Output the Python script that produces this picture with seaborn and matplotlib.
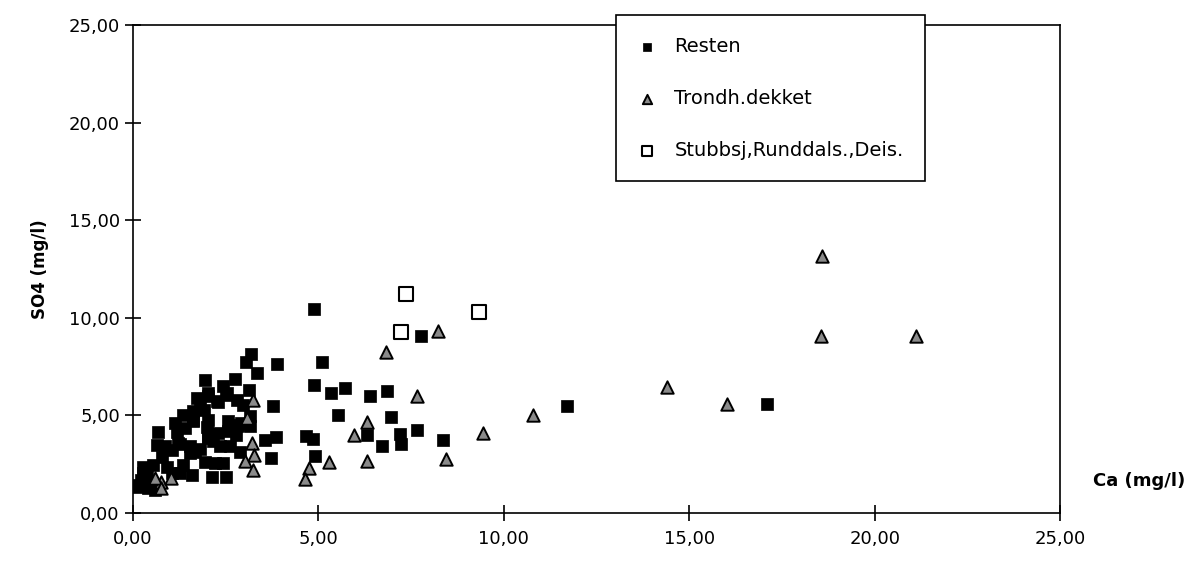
import matplotlib
matplotlib.use("Agg")
import matplotlib.pyplot as plt
from matplotlib.ticker import FuncFormatter, MultipleLocator
import seaborn as sns

# Resten (filled squares)
resten_ca = [4.88, 5.09, 4.87, 5.35, 5.71, 5.54, 6.38, 6.84, 6.96, 6.30, 7.20, 7.66, 6.72, 7.23,
             8.35, 7.77, 11.71, 17.10, 4.66, 4.84, 4.90, 3.87, 3.78, 3.85, 3.55, 3.71,
             3.17, 3.05, 3.35, 2.75, 3.13, 3.15, 2.79, 3.15, 2.78, 2.88, 1.94, 2.43, 2.52, 1.72,
             2.03, 2.30, 2.79, 2.97, 1.90, 1.63, 1.36, 1.63, 1.13, 1.99, 2.84, 2.57, 0.68, 1.18,
             1.40, 2.30, 2.03, 0.64, 0.86, 1.04, 1.27, 1.54, 1.67, 1.81, 2.16, 2.34, 2.61, 1.94,
             2.21, 2.43, 2.12, 2.52, 1.54, 1.36, 1.58, 1.27, 0.77, 0.91, 0.55, 0.26, 0.28, 0.14,
             0.59, 0.41, 1.04, 0.37, 2.02, 2.27, 2.53, 1.80, 1.62, 2.02, 2.56, 2.92, 1.21, 2.02,
             0.09, 0.40, 0.22]
resten_so4 = [10.43, 7.75, 6.58, 6.17, 6.38, 5.00, 5.98, 6.24, 4.92, 4.01, 4.05, 4.27, 3.44, 3.53,
              3.75, 9.07, 5.50, 5.57, 3.96, 3.79, 2.93, 7.64, 5.47, 3.92, 3.75, 2.83,
              8.17, 7.73, 7.15, 6.87, 6.32, 4.95, 4.47, 4.44, 4.01, 3.15, 6.80, 6.53, 6.07, 5.90,
              5.98, 5.67, 5.81, 5.55, 5.30, 5.21, 5.04, 4.69, 4.61, 4.39, 4.52, 4.18, 4.15, 4.13,
              4.35, 4.10, 3.92, 3.50, 3.44, 3.24, 3.55, 3.41, 3.15, 3.28, 3.67, 3.41, 3.44, 2.61,
              2.55, 2.55, 1.87, 1.82, 3.07, 2.47, 1.95, 2.04, 2.86, 2.38, 2.47, 2.38, 2.04, 1.35,
              1.18, 1.61, 2.04, 1.95, 6.15, 5.72, 6.15, 5.72, 4.78, 4.78, 4.69, 4.61, 3.58, 3.84,
              1.45, 1.27, 1.70]

# Trondh.dekket (triangles)
trondh_ca = [3.24, 3.08, 3.20, 3.26, 3.02, 3.24, 5.96, 5.28, 4.75, 4.64, 6.30, 6.30, 8.22, 6.82,
             7.66, 8.45, 10.79, 9.44, 14.39, 16.02, 18.59, 18.54, 21.12, 0.76, 1.03, 0.58, 0.76]
trondh_so4 = [5.81, 4.87, 3.61, 2.98, 2.69, 2.21, 4.01, 2.59, 2.30, 1.73, 4.64, 2.69, 9.32, 8.24,
              5.98, 2.76, 5.00, 4.10, 6.44, 5.60, 13.15, 9.07, 9.07, 1.61, 1.78, 1.78, 1.27]

# Stubbsj,Runddals.,Deis. (open squares)
stubb_ca = [7.36, 7.23, 9.33]
stubb_so4 = [11.24, 9.27, 10.30]

sns.set_style("ticks")
plt.rcParams['font.family'] = ['DejaVu Sans']
plt.rcParams['text.color'] = 'black'
plt.rcParams['axes.labelcolor'] = 'black'

fig = plt.figure(figsize=(12.03, 5.65), dpi=100)
ax = fig.add_axes([0.1106, 0.092, 0.7706, 0.8637])

sns.scatterplot(x=resten_ca, y=resten_so4, marker='s', s=65, color='black',
                edgecolor='black', linewidth=0.5, label='Resten', ax=ax, zorder=3)
sns.scatterplot(x=trondh_ca, y=trondh_so4, marker='^', s=80, color='#8a8a8a',
                edgecolor='black', linewidth=1.4, label='Trondh.dekket', ax=ax, zorder=4)
sns.scatterplot(x=stubb_ca, y=stubb_so4, marker='s', s=110, color='white',
                edgecolor='black', linewidth=1.5, label='Stubbsj,Runddals.,Deis.', ax=ax, zorder=4)

ax.set_xlim(0, 25)
ax.set_ylim(0, 25)
ax.xaxis.set_major_locator(MultipleLocator(5))
ax.yaxis.set_major_locator(MultipleLocator(5))
fmt = FuncFormatter(lambda v, p: f"{v:.2f}".replace('.', ','))
ax.xaxis.set_major_formatter(fmt)
ax.yaxis.set_major_formatter(fmt)
ax.tick_params(axis='both', direction='inout', length=12, width=1.2, labelsize=13,
               color='black', labelcolor='black')
ax.tick_params(axis='x', pad=6)
for side in ['top', 'right', 'bottom', 'left']:
    ax.spines[side].set_visible(True)
    ax.spines[side].set_color('black')
    ax.spines[side].set_linewidth(1.2)

ax.set_xlabel('')
ax.set_ylabel('SO4 (mg/l)', fontsize=12, fontweight='bold', labelpad=14, color='black')
fig.text(0.947, 0.148, 'Ca (mg/l)', fontsize=13, fontweight='bold', ha='center',
         va='center', color='black')

leg = ax.legend(loc='upper left', bbox_to_anchor=(0.521, 1.02), fontsize=14,
                frameon=True, fancybox=False, edgecolor='black', framealpha=1,
                labelspacing=1.7, handlelength=1.0, handletextpad=0.9, borderpad=1.1,
                borderaxespad=0, markerscale=0.75)
leg.get_frame().set_linewidth(1.2)
for t in leg.get_texts():
    t.set_color('black')

fig.savefig('out.png', dpi=100)
